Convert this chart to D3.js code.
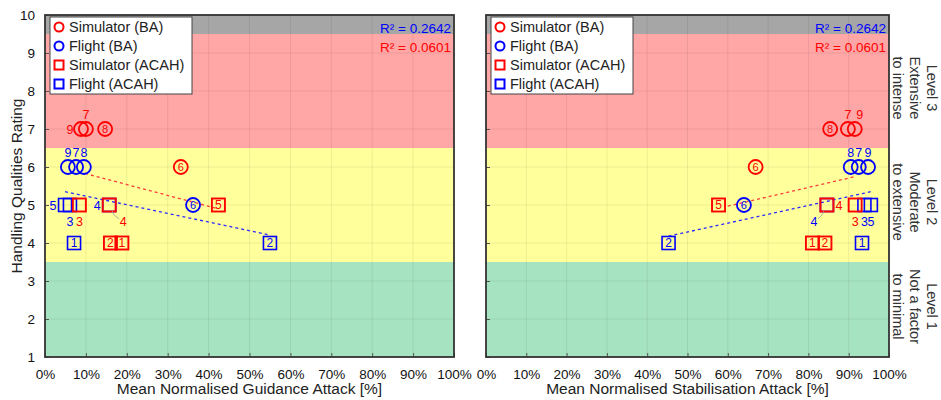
<!DOCTYPE html>
<html><head><meta charset="utf-8">
<script src="https://cdn.jsdelivr.net/npm/d3@7"></script>
<style>body{margin:0;background:#fff;} text{font-family:"Liberation Sans",Arial,Helvetica,sans-serif;}</style>
</head><body><svg id="c" width="941" height="400"></svg>
<script>
// ---- data ----
const xTicks = [0,10,20,30,40,50,60,70,80,90,100];
const yTicks = [1,2,3,4,5,6,7,8,9,10];
const bands = [[9.5,10],[6.5,9.5],[3.5,6.5],[1,3.5]];
const bandNames = ["grey","L3","L2","L1"];
const levelLabels = [["Level 3","Extensive","to intense"],["Level 2","Moderate","to extensive"],["Level 1","Not a factor","to minimal"]];
const levelBands = [[6.5,9.5],[3.5,6.5],[1,3.5]];
const legendLabels = ["Simulator (BA)","Flight (BA)","Simulator (ACAH)","Flight (ACAH)"];
const r2Labels = ["R\u00B2 = 0.2642","R\u00B2 = 0.0601"];
const xTitles = ["Mean Normalised Guidance Attack [%]","Mean Normalised Stabilisation Attack [%]"];
const yTitle = "Handling Qualities Rating";

// Guidance attack panel
const gSimBA_id = [9,7,8,6], gSimBA_x = [8.8,10.0,14.7,33.2], gSimBA_y = [7,7,7,6];
const gFltBA_id = [9,7,8,6], gFltBA_x = [5.6,7.6,9.5,36.2], gFltBA_y = [6,6,6,5];
const gSimAC_id = [3,4,5,2,1], gSimAC_x = [8.4,15.7,42.4,16.0,18.8], gSimAC_y = [5,5,5,4,4];
const gFltAC_id = [5,3,4,1,2], gFltAC_x = [4.9,6.1,15.7,7.1,55.0], gFltAC_y = [5,5,5,4,4];
const gTrendSim = [[9.8,5.83],[42.0,4.91]];
const gTrendFlt = [[4.9,5.35],[55.0,4.21]];
// Stabilisation attack panel
const sSimBA_id = [8,7,9,6], sSimBA_x = [85.4,89.8,91.5,66.9], sSimBA_y = [7,7,7,6];
const sFltBA_id = [8,7,9,6], sFltBA_x = [90.5,92.5,94.8,64.0], sFltBA_y = [6,6,6,5];
const sSimAC_id = [5,4,3,1,2], sSimAC_x = [57.7,84.6,91.6,81.0,84.1], sSimAC_y = [5,5,5,4,4];
const sFltAC_id = [4,3,5,1,2], sFltAC_x = [84.6,93.9,95.5,93.3,45.3], sFltAC_y = [5,5,5,4,4];
const sTrendSim = [[60.0,4.97],[91.3,5.74]];
const sTrendFlt = [[45.3,4.18],[95.5,5.35]];

// label placement codes (styling)
const gPlace = {simBA:["left","above","inside","inside"], fltBA:["above","above","above","inside"],
  simAC:["below","leaderBR","inside","inside","inside"], fltAC:["left","below","leftFar","inside","inside"]};
const sPlace = {simBA:["inside","above","aboveR","inside"], fltBA:["above","above","above","inside"],
  simAC:["inside","right","below","inside","inside"], fltAC:["leaderBL","below","below","inside","inside"]};

// ---- drawing ----
const RED="#ff0000", BLUE="#0000ff";
const bandColor = {grey:"#a6a6a6", L3:"#ffa6a6", L2:"#ffff9c", L1:"#a6e3c1"};
const svg = d3.select("#c");
const pTop=15, pBottom=357;
const y = d3.scaleLinear().domain([1,10]).range([pBottom,pTop]);

function zip(ids,xs,ys){return ids.map((d,i)=>({id:d,x:xs[i],y:ys[i],i}));}

function panel(x0,x1,data,trends,place,xTitle,showY){
  const x = d3.scaleLinear().domain([0,100]).range([x0,x1]);
  const g = svg.append("g");
  g.selectAll(".band").data(bands).join("rect")
    .attr("x",x0).attr("width",x1-x0)
    .attr("y",d=>y(d[1])).attr("height",d=>y(d[0])-y(d[1]))
    .attr("fill",(d,i)=>bandColor[bandNames[i]]);
  g.selectAll(".gx").data(xTicks.slice(1,-1)).join("line")
    .attr("x1",d=>x(d)).attr("x2",d=>x(d)).attr("y1",pTop).attr("y2",pBottom)
    .attr("stroke","#000").attr("stroke-opacity",0.07);
  g.selectAll(".gy").data(yTicks.slice(1,-1)).join("line")
    .attr("y1",d=>y(d)).attr("y2",d=>y(d)).attr("x1",x0).attr("x2",x1)
    .attr("stroke","#000").attr("stroke-opacity",0.07);
  const ax = g.append("g").attr("transform",`translate(0,${pBottom})`)
    .call(d3.axisBottom(x).tickValues(xTicks).tickSize(-4).tickPadding(12).tickFormat(d=>d+"%"));
  ax.select(".domain").remove();
  ax.selectAll("line").attr("stroke","#555");
  ax.selectAll("text").attr("font-size",13.5).attr("fill","#111").attr("font-family","Liberation Sans, Arial, sans-serif");
  const ay = g.append("g").attr("transform",`translate(${x0},0)`)
    .call(d3.axisLeft(y).tickValues(yTicks).tickSize(-4).tickPadding(10).tickFormat(showY?d3.format("d"):""));
  ay.select(".domain").remove();
  ay.selectAll("line").attr("stroke","#555");
  ay.selectAll("text").attr("font-size",13.5).attr("fill","#111").attr("font-family","Liberation Sans, Arial, sans-serif");
  g.append("rect").attr("x",x0).attr("y",pTop).attr("width",x1-x0).attr("height",pBottom-pTop)
    .attr("fill","none").attr("stroke","#333").attr("stroke-width",1.8);
  g.append("text").attr("x",(x0+x1)/2).attr("y",394).attr("text-anchor","middle")
    .attr("font-size",15.5).attr("fill","#222").text(xTitle);

  const line = d3.line().x(d=>x(d[0])).y(d=>y(d[1]));
  g.append("path").attr("d",line(trends[0])).attr("stroke","#ff3a3a").attr("stroke-width",1.3)
    .attr("stroke-dasharray","3,3").attr("fill","none");
  g.append("path").attr("d",line(trends[1])).attr("stroke","#2a2aff").attr("stroke-width",1.3)
    .attr("stroke-dasharray","3,3").attr("fill","none");

  const S=13, R=7;
  function labels(sel,pts,pl,col,isSq){
    pts.forEach(p=>{
      const cx=x(p.x), cy=y(p.y), code=pl[p.i];
      let tx=cx, ty=cy, fs=12.5, anchor="middle";
      if(code==="inside"){fs=isSq?12:11; ty=cy;}
      else if(code==="above"){ty=cy-15;}
      else if(code==="aboveR"){ty=cy-15; tx=cx+5;}
      else if(code==="left"){tx=cx-(isSq?12:11);}
      else if(code==="leftFar"){tx=cx-12;}
      else if(code==="right"){tx=cx+12;}
      else if(code==="below"){ty=cy+16;}
      else if(code==="leaderBR"){tx=cx+14; ty=cy+16;
        sel.append("path").attr("d",`M${cx+3},${cy+6} L${cx+5},${cy+10} L${tx-4},${ty-2}`).attr("stroke","#999").attr("fill","none").attr("stroke-width",0.8);}
      else if(code==="leaderBL"){tx=cx-13; ty=cy+16;
        sel.append("path").attr("d",`M${cx-3},${cy+6} L${cx-5},${cy+10} L${tx+4},${ty-2}`).attr("stroke","#999").attr("fill","none").attr("stroke-width",0.8);}
      sel.append("text").attr("x",tx).attr("y",ty).attr("dy","0.36em").attr("text-anchor",anchor)
        .attr("font-size",fs).attr("fill",col).text(p.id);
    });
  }
  const mk = g.append("g");
  mk.selectAll(".fsq").data(data.fltAC).join("rect")
    .attr("x",d=>x(d.x)-S/2).attr("y",d=>y(d.y)-S/2).attr("width",S).attr("height",S)
    .attr("fill","none").attr("stroke",BLUE).attr("stroke-width",1.6);
  mk.selectAll(".ssq").data(data.simAC).join("rect")
    .attr("x",d=>x(d.x)-S/2).attr("y",d=>y(d.y)-S/2).attr("width",S).attr("height",S)
    .attr("fill","none").attr("stroke",RED).attr("stroke-width",1.9);
  mk.selectAll(".fc").data(data.fltBA).join("circle")
    .attr("cx",d=>x(d.x)).attr("cy",d=>y(d.y)).attr("r",R)
    .attr("fill","none").attr("stroke",BLUE).attr("stroke-width",1.8);
  mk.selectAll(".sc").data(data.simBA).join("circle")
    .attr("cx",d=>x(d.x)).attr("cy",d=>y(d.y)).attr("r",R)
    .attr("fill","none").attr("stroke",RED).attr("stroke-width",1.8);
  labels(mk,data.fltAC,place.fltAC,BLUE,true);
  labels(mk,data.simAC,place.simAC,RED,true);
  labels(mk,data.fltBA,place.fltBA,BLUE,false);
  labels(mk,data.simBA,place.simBA,RED,false);

  g.append("text").attr("x",x1-3).attr("y",33).attr("text-anchor","end").attr("font-size",13.5).attr("fill",BLUE).text(r2Labels[0]);
  g.append("text").attr("x",x1-3).attr("y",52).attr("text-anchor","end").attr("font-size",13.5).attr("fill",RED).text(r2Labels[1]);

  const lg = g.append("g").attr("transform",`translate(${x0+5},${pTop+2})`);
  lg.append("rect").attr("width",142).attr("height",77).attr("fill","#fff").attr("stroke","#444").attr("stroke-width",1);
  legendLabels.forEach((t,i)=>{
    const cy = 10+i*19, col = i%2===0?RED:BLUE;
    if(i<2) lg.append("circle").attr("cx",9).attr("cy",cy).attr("r",4.5).attr("fill","none").attr("stroke",col).attr("stroke-width",2);
    else lg.append("rect").attr("x",4.5).attr("y",cy-4.5).attr("width",9).attr("height",9).attr("fill","none").attr("stroke",col).attr("stroke-width",2);
    lg.append("text").attr("x",19).attr("y",cy).attr("dy","0.36em").attr("font-size",14.5).attr("fill","#222").text(t);
  });
  return x;
}

const gData = {simBA:zip(gSimBA_id,gSimBA_x,gSimBA_y), fltBA:zip(gFltBA_id,gFltBA_x,gFltBA_y),
  simAC:zip(gSimAC_id,gSimAC_x,gSimAC_y), fltAC:zip(gFltAC_id,gFltAC_x,gFltAC_y)};
const sData = {simBA:zip(sSimBA_id,sSimBA_x,sSimBA_y), fltBA:zip(sFltBA_id,sFltBA_x,sFltBA_y),
  simAC:zip(sSimAC_id,sSimAC_x,sSimAC_y), fltAC:zip(sFltAC_id,sFltAC_x,sFltAC_y)};

panel(45,454,gData,[gTrendSim,gTrendFlt],gPlace,xTitles[0],true);
panel(486,889,sData,[sTrendSim,sTrendFlt],sPlace,xTitles[1],false);

svg.append("text").attr("transform",`translate(17,${(pTop+pBottom)/2}) rotate(-90)`)
  .attr("text-anchor","middle").attr("dy","0.35em").attr("font-size",15.5).attr("fill","#222").text(yTitle);

levelLabels.forEach((lines,i)=>{
  const cy = (y(levelBands[i][0])+y(levelBands[i][1]))/2 - 3;
  const t = svg.append("text").attr("transform",`translate(915,${cy}) rotate(90)`)
    .attr("text-anchor","middle").attr("font-size",14.5).attr("fill","#333");
  lines.forEach((l,j)=>{
    t.append("tspan").attr("x",0).attr("y",(j-1)*17).attr("dy","0.35em").text(l);
  });
});
</script></body></html>
